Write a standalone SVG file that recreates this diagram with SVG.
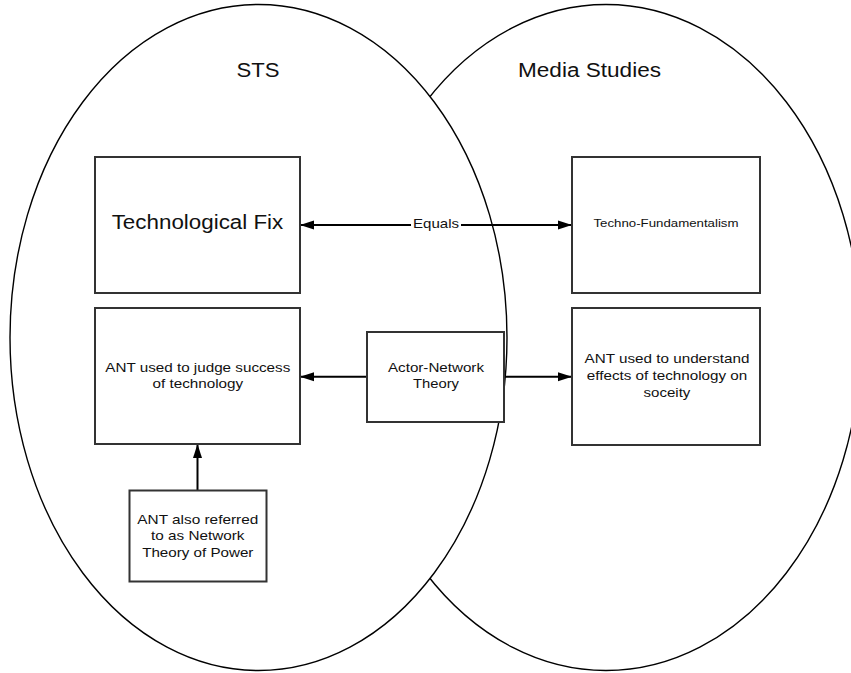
<svg xmlns="http://www.w3.org/2000/svg" width="851" height="673" viewBox="0 0 851 673">
<style>
.bg{fill:#ffffff}
.ell{fill:#ffffff;stroke:#000000;stroke-width:1.4}
.box{fill:#ffffff;stroke:#333333;stroke-width:2}
.conn{fill:none;stroke:#000000;stroke-width:2}
.t{font-family:"Liberation Sans",Arial,sans-serif;fill:#111111;text-anchor:middle}
.title{font-size:19.5px}
.big{font-size:20px}
.mid{font-size:13px}
.small{font-size:11.5px}
</style>
<defs>
<marker id="arrow" viewBox="0 0 14 10" refX="14" refY="5" markerWidth="14" markerHeight="10" markerUnits="userSpaceOnUse" orient="auto-start-reverse">
<path d="M0,0.5 L14,5 L0,9.5 z" fill="#000000"/>
</marker>
</defs>
<rect class="bg" x="0" y="0" width="851" height="673"/>
<g id="media-studies">
<ellipse class="ell" cx="606" cy="337.5" rx="255" ry="333"/>
<text class="t title" x="589.5" y="77" textLength="143" lengthAdjust="spacingAndGlyphs">Media Studies</text>
</g>
<g id="sts">
<ellipse class="ell" cx="258.5" cy="337.5" rx="248.5" ry="333"/>
<text class="t title" x="258" y="77" textLength="43" lengthAdjust="spacingAndGlyphs">STS</text>
</g>
<g id="connectors">
<line class="conn" x1="300" y1="225" x2="572" y2="225" marker-start="url(#arrow)" marker-end="url(#arrow)"/>
<rect x="411" y="214" width="50" height="19" fill="#ffffff"/>
<text class="t mid" x="436" y="228.3" textLength="46" lengthAdjust="spacingAndGlyphs">Equals</text>
<line class="conn" x1="367" y1="376.7" x2="300" y2="376.7" marker-end="url(#arrow)"/>
<line class="conn" x1="504" y1="376.7" x2="572" y2="376.7" marker-end="url(#arrow)"/>
<line class="conn" x1="197.5" y1="490" x2="197.5" y2="444" marker-end="url(#arrow)"/>
</g>
<g id="technological-fix">
<rect class="box" x="95" y="157" width="205" height="136"/>
<text class="t big" x="197.5" y="229.3" textLength="171.6" lengthAdjust="spacingAndGlyphs">Technological Fix</text>
</g>
<g id="techno-fundamentalism">
<rect class="box" x="572" y="157" width="188" height="136"/>
<text class="t small" x="666" y="227" textLength="145" lengthAdjust="spacingAndGlyphs">Techno-Fundamentalism</text>
</g>
<g id="ant-judge">
<rect class="box" x="95" y="308" width="205" height="136"/>
<text class="t mid" x="197.8" y="371.7" textLength="185" lengthAdjust="spacingAndGlyphs">ANT used to judge success</text>
<text class="t mid" x="197.8" y="388.4" textLength="90.6" lengthAdjust="spacingAndGlyphs">of technology</text>
</g>
<g id="actor-network-theory">
<rect class="box" x="367" y="332" width="137" height="90"/>
<text class="t mid" x="436" y="371.7" textLength="96" lengthAdjust="spacingAndGlyphs">Actor-Network</text>
<text class="t mid" x="436" y="388.3" textLength="46" lengthAdjust="spacingAndGlyphs">Theory</text>
</g>
<g id="ant-understand">
<rect class="box" x="572" y="308" width="188" height="137"/>
<text class="t mid" x="667" y="363.3" textLength="164.8" lengthAdjust="spacingAndGlyphs">ANT used to understand</text>
<text class="t mid" x="667" y="380" textLength="160.4" lengthAdjust="spacingAndGlyphs">effects of technology on</text>
<text class="t mid" x="667" y="396.7" textLength="46.8" lengthAdjust="spacingAndGlyphs">soceity</text>
</g>
<g id="ant-also">
<rect class="box" x="129.5" y="490.5" width="137" height="91"/>
<text class="t mid" x="197.8" y="524" textLength="121" lengthAdjust="spacingAndGlyphs">ANT also referred</text>
<text class="t mid" x="197.8" y="540.3" textLength="93.4" lengthAdjust="spacingAndGlyphs">to as Network</text>
<text class="t mid" x="197.8" y="556.7" textLength="111.2" lengthAdjust="spacingAndGlyphs">Theory of Power</text>
</g>
</svg>
